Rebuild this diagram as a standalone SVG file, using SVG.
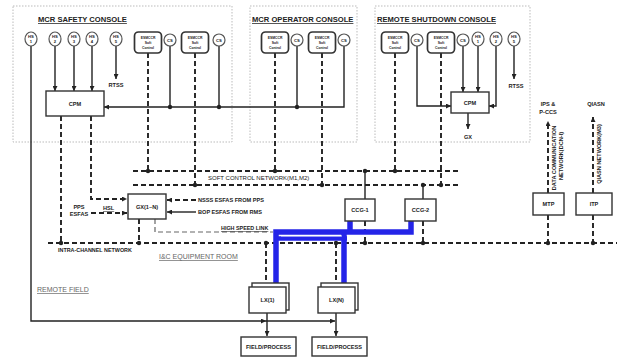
<svg xmlns="http://www.w3.org/2000/svg" width="617" height="358" viewBox="0 0 617 358">
<defs>
<marker id="ah" viewBox="0 0 6 6" refX="6" refY="3" markerWidth="5" markerHeight="5" orient="auto" markerUnits="userSpaceOnUse"><path d="M0,0 L6,3 L0,6 z" fill="#222"/></marker>
<style>
text{font-family:"Liberation Sans",Arial,sans-serif;fill:#222}
.title{font-size:7.6px;font-weight:bold;text-decoration:underline}
.lbl{font-size:5.6px;font-weight:bold}
.box{fill:#fff;stroke:#333;stroke-width:1.4}
.sc{fill:#fff;stroke:#333;stroke-width:1.7}
.circ{fill:#fff;stroke:#555;stroke-width:1.2}
.tiny{font-size:4.2px;font-weight:bold;text-anchor:middle}
.sct{font-size:3.4px;font-weight:bold;text-anchor:middle}
.bt{font-size:5.6px;font-weight:bold;text-anchor:middle}
.console{fill:none;stroke:#bbb;stroke-width:1;stroke-dasharray:1.5 1.5}
.ln{fill:none;stroke:#222;stroke-width:1.4}
.dsh{fill:none;stroke:#222;stroke-width:1.9;stroke-dasharray:5 3}
.dshl{fill:none;stroke:#666;stroke-width:1.2;stroke-dasharray:5 3}
.hsl{fill:none;stroke:#2424e8;stroke-width:5.5}
.dot{fill:#222}
.gray{font-size:7px;fill:#666;text-decoration:underline}
</style>
</defs>
<rect width="617" height="358" fill="#fff"/>

<g id="consoles">
<rect class="console" x="13" y="6" width="219" height="136"/>
<rect class="console" x="250" y="6" width="107" height="136"/>
<rect class="console" x="375" y="6" width="155" height="136"/>
<text class="title" x="38" y="22">MCR SAFETY CONSOLE</text>
<text class="title" x="252" y="22">MCR OPERATOR CONSOLE</text>
<text class="title" x="377" y="22">REMOTE SHUTDOWN CONSOLE</text>
</g>

<g id="connectors">
<path class="ln" d="M31,46 V321 H266" marker-end="url(#ah)"/>
<path class="ln" d="M266,321 H335" marker-end="url(#ah)"/>
<path class="ln" d="M55,46 V91" marker-end="url(#ah)"/>
<path class="ln" d="M74,46 V91" marker-end="url(#ah)"/>
<path class="ln" d="M92,46 V91" marker-end="url(#ah)"/>
<path class="ln" d="M116,46 V79" marker-end="url(#ah)"/>
<path class="ln" d="M344,46 V107 H104" marker-end="url(#ah)"/>
<path class="ln" d="M170,46 V107 M219,46 V107 M297,46 V107"/>
<path class="dsh" d="M148,53 V171 M195,53 V185 M275,53 V171 M322,53 V185 M395,53 V171 M441,53 V185"/>
<path class="dsh" d="M133,171 H458 M133,185 H458"/>
<path class="ln" d="M365,171 V199 M423,185 V199"/>
<path class="dsh" d="M365,221 V243 M423,221 V243"/>
<path class="dsh" d="M61,116 V243"/>
<path class="dsh" d="M91,116 V199 H127" marker-end="url(#ah)"/>
<path class="dsh" d="M91,213 H127" marker-end="url(#ah)"/>
<path class="dsh" d="M196,200 H167" marker-end="url(#ah)"/>
<path class="ln" d="M196,212 H167" marker-end="url(#ah)"/>
<path class="dsh" d="M139,219 V243"/>
<path class="dshl" d="M155,219 V232 H273"/>
<path class="dsh" d="M48,243 H617"/>
<path class="dsh" d="M266,243 V283 M336,243 V283"/>
<path class="ln" d="M267,313 V336" marker-end="url(#ah)"/>
<path class="ln" d="M336,313 V336" marker-end="url(#ah)"/>
<path class="hsl" d="M411,221 V232 H276 V284"/>
<path class="hsl" d="M350,221 V232"/>
<path class="hsl" d="M344,232 V284"/>
<path class="hsl" d="M277,238.5 H347" style="stroke-width:4.5"/>
<path d="M281,236 H342" stroke="#fff" stroke-width="0.8"/>
<path class="ln" d="M417,46 V106 H451" marker-end="url(#ah)"/>
<path class="ln" d="M463,46 V92" marker-end="url(#ah)"/>
<path class="ln" d="M478,46 V92" marker-end="url(#ah)"/>
<path class="ln" d="M496,46 V106 H489" marker-end="url(#ah)"/>
<path class="ln" d="M514,46 V79" marker-end="url(#ah)"/>
<path class="ln" d="M468,113 V129" marker-end="url(#ah)"/>
<path class="dsh" d="M548,215 V243 M593,215 V243"/>
<path class="dsh" d="M548,193 V121" marker-end="url(#ah)"/>
<path class="dsh" d="M593,193 V117" marker-end="url(#ah)"/>
<g class="dot">
<circle cx="170" cy="107" r="2.2"/><circle cx="219" cy="107" r="2.2"/><circle cx="297" cy="107" r="2.2"/>
<circle cx="148" cy="171" r="2.2"/><circle cx="195" cy="185" r="2.2"/><circle cx="275" cy="171" r="2.2"/>
<circle cx="322" cy="185" r="2.2"/><circle cx="365" cy="171" r="2.2"/><circle cx="395" cy="171" r="2.2"/>
<circle cx="423" cy="185" r="2.2"/><circle cx="441" cy="185" r="2.2"/>
<circle cx="61" cy="243" r="2.2"/><circle cx="139" cy="243" r="2.2"/><circle cx="266" cy="243" r="2.2"/>
<circle cx="336" cy="243" r="2.2"/><circle cx="365" cy="243" r="2.2"/><circle cx="423" cy="243" r="2.2"/>
<circle cx="548" cy="243" r="2.2"/><circle cx="593" cy="243" r="2.2"/>
</g>
</g>

<g id="labels">
<text class="lbl" x="116" y="87" text-anchor="middle">RTSS</text>
<text class="lbl" x="516" y="88" text-anchor="middle">RTSS</text>
<text class="lbl" x="468" y="139" text-anchor="middle">GX</text>
<text class="lbl" x="208" y="180" style="font-weight:normal;font-size:6px">SOFT CONTROL NETWORK(M1,M2)</text>
<text class="lbl" x="79" y="209" text-anchor="middle">PPS</text>
<text class="lbl" x="79" y="216" text-anchor="middle">ESFAS</text>
<text class="lbl" x="103" y="210" style="text-decoration:underline">HSL</text>
<text class="lbl" x="198" y="202">NSSS ESFAS FROM PPS</text>
<text class="lbl" x="198" y="214">BOP ESFAS FROM RMS</text>
<text class="lbl" x="221" y="230" style="text-decoration:underline;font-size:5.4px">HIGH SPEED LINK</text>
<text class="lbl" x="58" y="252" style="font-size:5.4px">INTRA-CHANNEL NETWORK</text>
<text class="gray" x="159" y="259">I&amp;C EQUIPMENT ROOM</text>
<text class="gray" x="37" y="292">REMOTE FIELD</text>
<text class="bt" x="548" y="106">IPS &amp;</text>
<text class="bt" x="548" y="114">P-CCS</text>
<text class="bt" x="596" y="106">QIASN</text>
<text class="bt" transform="translate(556,158) rotate(-90)">DATA COMMUNICATION</text>
<text class="bt" transform="translate(563,156) rotate(-90)">NETWORK(DCN-I)</text>
<text class="bt" transform="translate(601,154) rotate(-90)">QIASN NETWORK(M3)</text>
</g>

<g id="hs-safety-1"><ellipse class="circ" cx="31" cy="39" rx="6" ry="7"/><text class="tiny" x="31" y="38">HS</text><text class="tiny" x="31" y="43">1</text></g>
<g id="hs-safety-2"><ellipse class="circ" cx="55" cy="39" rx="6" ry="7"/><text class="tiny" x="55" y="38">HS</text><text class="tiny" x="55" y="43">2</text></g>
<g id="hs-safety-3"><ellipse class="circ" cx="74" cy="39" rx="6" ry="7"/><text class="tiny" x="74" y="38">HS</text><text class="tiny" x="74" y="43">3</text></g>
<g id="hs-safety-4"><ellipse class="circ" cx="92" cy="39" rx="6" ry="7"/><text class="tiny" x="92" y="38">HS</text><text class="tiny" x="92" y="43">4</text></g>
<g id="hs-safety-5"><ellipse class="circ" cx="116" cy="39" rx="6" ry="7"/><text class="tiny" x="116" y="38">HS</text><text class="tiny" x="116" y="43">5</text></g>

<g id="sc-safety-1"><rect class="sc" x="134.5" y="32" width="27" height="21" rx="4"/><text class="sct" x="148" y="39">ESMCCR</text><text class="sct" x="148" y="44">Soft</text><text class="sct" x="148" y="49">Control</text></g>
<g id="cs-safety-1"><circle class="circ" cx="170" cy="40" r="6"/><text class="tiny" x="170" y="41.5">CS</text></g>
<g id="sc-safety-2"><rect class="sc" x="181.5" y="32" width="27" height="21" rx="4"/><text class="sct" x="195" y="39">ESMCCR</text><text class="sct" x="195" y="44">Soft</text><text class="sct" x="195" y="49">Control</text></g>
<g id="cs-safety-2"><circle class="circ" cx="219" cy="40" r="6"/><text class="tiny" x="219" y="41.5">CS</text></g>

<g id="sc-op-1"><rect class="sc" x="261.5" y="32" width="27" height="21" rx="4"/><text class="sct" x="275" y="39">ESMCCR</text><text class="sct" x="275" y="44">Soft</text><text class="sct" x="275" y="49">Control</text></g>
<g id="cs-op-1"><circle class="circ" cx="297" cy="40" r="6"/><text class="tiny" x="297" y="41.5">CS</text></g>
<g id="sc-op-2"><rect class="sc" x="308.5" y="32" width="27" height="21" rx="4"/><text class="sct" x="322" y="39">ESMCCR</text><text class="sct" x="322" y="44">Soft</text><text class="sct" x="322" y="49">Control</text></g>
<g id="cs-op-2"><circle class="circ" cx="344" cy="40" r="6"/><text class="tiny" x="344" y="41.5">CS</text></g>

<g id="sc-rsc-1"><rect class="sc" x="381.5" y="32" width="27" height="21" rx="4"/><text class="sct" x="395" y="39">ESMCCR</text><text class="sct" x="395" y="44">Soft</text><text class="sct" x="395" y="49">Control</text></g>
<g id="cs-rsc-1"><circle class="circ" cx="417" cy="40" r="6"/><text class="tiny" x="417" y="41.5">CS</text></g>
<g id="sc-rsc-2"><rect class="sc" x="427.5" y="32" width="27" height="21" rx="4"/><text class="sct" x="441" y="39">ESMCCR</text><text class="sct" x="441" y="44">Soft</text><text class="sct" x="441" y="49">Control</text></g>
<g id="cs-rsc-2"><circle class="circ" cx="463" cy="40" r="6"/><text class="tiny" x="463" y="41.5">CS</text></g>
<g id="hs-rsc-1"><ellipse class="circ" cx="478" cy="39" rx="6" ry="7"/><text class="tiny" x="478" y="38">HS</text><text class="tiny" x="478" y="43">1</text></g>
<g id="hs-rsc-2"><ellipse class="circ" cx="496" cy="39" rx="6" ry="7"/><text class="tiny" x="496" y="38">HS</text><text class="tiny" x="496" y="43">2</text></g>
<g id="hs-rsc-3"><ellipse class="circ" cx="514" cy="39" rx="6" ry="7"/><text class="tiny" x="514" y="38">HS</text><text class="tiny" x="514" y="43">5</text></g>

<g id="cpm-safety"><rect class="box" x="46" y="91" width="58" height="25"/><text class="bt" x="75" y="105.5">CPM</text></g>
<g id="cpm-rsc"><rect class="box" x="451" y="92" width="38" height="21"/><text class="bt" x="470" y="104.5">CPM</text></g>
<g id="gx"><rect class="box" x="128" y="194" width="38" height="25"/><text class="bt" x="147" y="208.5">GX(1~N)</text></g>
<g id="ccg-1"><rect class="box" x="345" y="199" width="30" height="22"/><text class="bt" x="360" y="212">CCG-1</text></g>
<g id="ccg-2"><rect class="box" x="405" y="199" width="31" height="22"/><text class="bt" x="420.5" y="212">CCG-2</text></g>
<g id="mtp"><rect class="box" x="533" y="193" width="31" height="22"/><text class="bt" x="548.5" y="206">MTP</text></g>
<g id="itp"><rect class="box" x="576" y="193" width="36" height="22"/><text class="bt" x="594" y="206">ITP</text></g>
<g id="lx-1"><rect class="box" x="252" y="283" width="37" height="27"/><rect class="box" x="249" y="287" width="37" height="26"/><text class="bt" x="267.5" y="302">LX(1)</text></g>
<g id="lx-n"><rect class="box" x="321" y="283" width="37" height="27"/><rect class="box" x="318" y="287" width="37" height="26"/><text class="bt" x="336.5" y="302">LX(N)</text></g>
<g id="field-1"><rect class="box" x="241" y="337" width="55" height="19"/><text class="bt" x="268.5" y="348.5">FIELD/PROCESS</text></g>
<g id="field-2"><rect class="box" x="312" y="337" width="55" height="19"/><text class="bt" x="339.5" y="348.5">FIELD/PROCESS</text></g>
</svg>
